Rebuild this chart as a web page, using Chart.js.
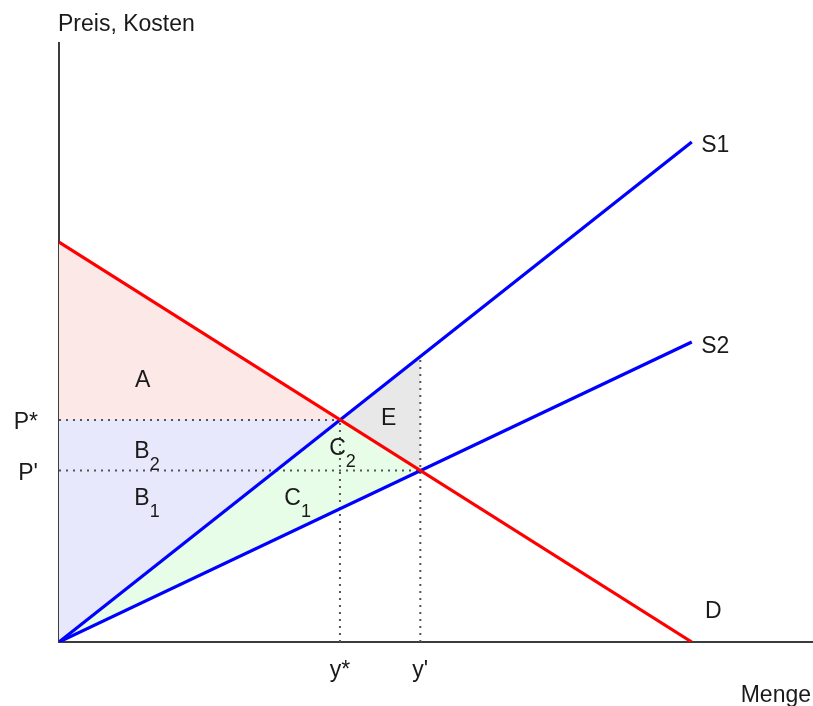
<!DOCTYPE html>
<html>
<head>
<meta charset="utf-8">
<script src="https://cdn.jsdelivr.net/npm/chart.js@4/dist/chart.umd.min.js"></script>
<style>
  html, body { margin: 0; padding: 0; background: #fff; }
</style>
</head>
<body>
<canvas id="marketChart" width="813" height="706"></canvas>
<script>
// Nachfrage D und Angebot S1, S2 as [Menge, Preis]
const demandD = [[0, 80], [100, 0]];
const supplyS1 = [[0, 0], [100, 100]];
const supplyS2 = [[0, 0], [100, 60]];

// Gleichgewichte
const yStar = 44.4, pStar = 44.4;
const yPrime = 57.1, pPrime = 34.3;
const s1AtYPrime = 57.1;

const xTickValues = [yStar, yPrime];
const xTickLabels = ["y*", "y'"];
const yTickValues = [pStar, pPrime];
const yTickLabels = ["P*", "P'"];

// Flächen
const areaA = [[0, 80], [0, pStar], [yStar, pStar]];
const areaB = [[0, 0], [0, pStar], [yStar, pStar]];
const areaC = [[0, 0], [yStar, pStar], [yPrime, pPrime]];
const areaE = [[yStar, pStar], [yPrime, s1AtYPrime], [yPrime, pPrime]];

// Hilfslinien
const guides = [
    [[0, pStar], [yStar, pStar]],
    [[0, pPrime], [yPrime, pPrime]],
    [[yStar, 0], [yStar, pStar]],
    [[yPrime, 0], [yPrime, s1AtYPrime]]
];

// labels: text, subscript, x, y (left / baseline in data units)
const areaLabels = [
    ["A", "", 12.0, 51.0],
    ["B", "2", 11.9, 36.8],
    ["B", "1", 11.9, 27.4],
    ["C", "2", 42.7, 37.4],
    ["C", "1", 35.6, 27.4],
    ["E", "", 50.9, 43.4],
    ["S1", "", 101.5, 98.0],
    ["S2", "", 101.5, 57.8],
    ["D", "", 102.1, 4.8]
];

const FONT = "'Liberation Sans', Arial, sans-serif";
const TEXT = "#1a1a1a";

const pts = arr => arr.map(p => ({ x: p[0], y: p[1] }));

function area(points, color) {
    return {
        data: pts(points),
        showLine: true,
        borderWidth: 0,
        borderColor: "transparent",
        backgroundColor: color,
        fill: "shape",
        pointRadius: 0,
        order: 3
    };
}

function line(points, color) {
    return {
        data: pts(points),
        showLine: true,
        borderWidth: 3.2,
        borderColor: color,
        fill: false,
        pointRadius: 0,
        order: 1
    };
}

function guide(points) {
    return {
        data: pts(points),
        showLine: true,
        borderWidth: 2,
        borderColor: "#555",
        borderDash: [2, 5],
        fill: false,
        pointRadius: 0,
        order: 2
    };
}

const textPlugin = {
    id: "textPlugin",
    afterDatasetsDraw(chart) {
        const ctx = chart.ctx;
        const xs = chart.scales.x, ys = chart.scales.y;
        const area = chart.chartArea;
        ctx.save();
        ctx.fillStyle = TEXT;
        ctx.textBaseline = "alphabetic";
        ctx.textAlign = "left";
        areaLabels.forEach(l => {
            const px = xs.getPixelForValue(l[2]);
            const py = ys.getPixelForValue(l[3]);
            ctx.font = "23px " + FONT;
            ctx.fillText(l[0], px, py);
            if (l[1]) {
                const w = ctx.measureText(l[0]).width;
                ctx.font = "18px " + FONT;
                ctx.fillText(l[1], px + w, py + 12);
            }
        });
        ctx.font = "23px " + FONT;
        ctx.fillText("Preis, Kosten", area.left - 1, area.top - 12);
        ctx.textAlign = "right";
        ctx.fillText("Menge", area.right - 1, 702);
        ctx.restore();
    }
};

const datasets = [
    line(demandD, "#ff0000"),
    line(supplyS1, "#0000ff"),
    line(supplyS2, "#0000ff"),
    ...guides.map(guide),
    area(areaA, "#fde8e8"),
    area(areaB, "#e8e8fd"),
    area(areaC, "#e8fde8"),
    area(areaE, "#e8e8e8")
];

new Chart(document.getElementById("marketChart").getContext("2d"), {
    type: "scatter",
    data: { datasets: datasets },
    options: {
        responsive: false,
        animation: false,
        layout: { padding: { top: 43, right: 1, left: 0, bottom: 0 } },
        plugins: {
            legend: { display: false },
            tooltip: { enabled: false }
        },
        scales: {
            x: {
                type: "linear",
                min: 0,
                max: 119,
                grid: { display: false, drawTicks: false },
                border: { display: true, color: "#3c3c3c", width: 2 },
                afterBuildTicks: scale => {
                    scale.ticks = xTickValues.map(v => ({ value: v }));
                },
                afterFit: scale => { scale.height = 64; },
                ticks: {
                    autoSkip: false,
                    maxRotation: 0,
                    padding: 15,
                    color: TEXT,
                    font: { family: FONT, size: 23 },
                    callback: (v, i) => xTickLabels[i]
                }
            },
            y: {
                type: "linear",
                min: 0,
                max: 119.8,
                grid: { display: false, drawTicks: false },
                border: { display: true, color: "#3c3c3c", width: 2 },
                afterBuildTicks: scale => {
                    scale.ticks = yTickValues.map(v => ({ value: v }));
                },
                afterFit: scale => { scale.width = 59; },
                ticks: {
                    autoSkip: false,
                    padding: 21,
                    labelOffset: 3,
                    color: TEXT,
                    font: { family: FONT, size: 23 },
                    callback: (v, i) => yTickLabels[i]
                }
            }
        }
    },
    plugins: [textPlugin]
});
</script>
</body>
</html>
